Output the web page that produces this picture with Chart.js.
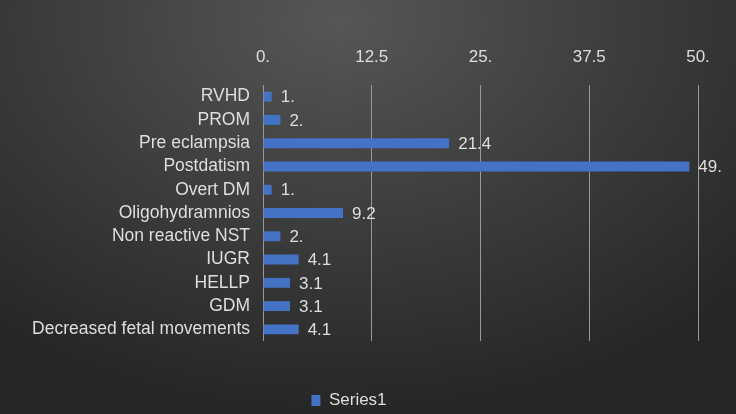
<!DOCTYPE html>
<html lang="en">
<head>
  <meta charset="UTF-8">
  <title>Indications</title>
  <script src="https://cdn.jsdelivr.net/npm/chart.js"></script>
  <style>
    html, body { margin: 0; padding: 0; }
    body {
      width: 736px; height: 414px; overflow: hidden;
      background: radial-gradient(ellipse 75% 95% at 46% 5%, #565656 0%, #3b3b3b 55%, #262626 100%);
    }
    .wrap { position: relative; width: 736px; height: 414px; }
  </style>
</head>
<body>
  <div class="wrap"><canvas id="grafico"></canvas></div>

  <script>
    const categorias = ['RVHD', 'PROM', 'Pre eclampsia', 'Postdatism', 'Overt DM', 'Oligohydramnios',
      'Non reactive NST', 'IUGR', 'HELLP', 'GDM', 'Decreased fetal movements'];
    const valores = [1, 2, 21.4, 49, 1, 9.2, 2, 4.1, 3.1, 3.1, 4.1];
    const ticksEje = [0, 12.5, 25, 37.5, 50];

    const fuente = "'Liberation Sans', Arial, sans-serif";
    const gris = '#dedede';
    // Excel style: whole numbers get a trailing dot ("1.", "25.")
    const fmt = v => Number.isInteger(v) ? v + '.' : String(v);

    const etiquetas = {
      id: 'etiquetas',
      afterDatasetsDraw(chart) {
        const ctx = chart.ctx;
        ctx.save();
        ctx.font = '17px ' + fuente;
        ctx.fillStyle = gris;
        ctx.textBaseline = 'middle';
        chart.getDatasetMeta(0).data.forEach((bar, i) => {
          ctx.fillText(fmt(valores[i]), bar.x + 9, bar.y + 1);
        });
        ctx.restore();
      }
    };

    new Chart(document.getElementById('grafico'), {
      type: 'bar',
      data: {
        labels: categorias,
        datasets: [{
          label: 'Series1',
          data: valores,
          backgroundColor: '#4472c4',
          categoryPercentage: 0.5,
          barPercentage: 0.85
        }]
      },
      options: {
        indexAxis: 'y',
        responsive: true,
        maintainAspectRatio: false,
        animation: false,
        layout: { padding: { top: 40, right: 38, left: 0, bottom: -5 } },
        scales: {
          x: {
            position: 'top',
            min: 0, max: 50,
            afterBuildTicks: s => { s.ticks = ticksEje.map(v => ({ value: v })); },
            afterFit: s => { s.height = 45; },
            ticks: { color: gris, font: { family: fuente, size: 17 }, padding: 17, callback: v => fmt(v) },
            grid: { color: '#999999', lineWidth: 1, drawTicks: false },
            border: { display: false }
          },
          x2: {
            type: 'linear',
            position: 'bottom',
            display: true,
            afterFit: s => { s.height = 49; },
            ticks: { display: false },
            grid: { display: false },
            border: { display: false }
          },
          y: {
            afterFit: s => { s.width = 263; },
            ticks: { color: gris, font: { family: fuente, size: 17.5 }, padding: 13, autoSkip: false },
            grid: { display: false, drawTicks: false },
            border: { display: false }
          }
        },
        plugins: {
          legend: {
            position: 'bottom',
            labels: { color: gris, font: { family: fuente, size: 17 }, boxWidth: 9, boxHeight: 11, padding: 2 }
          },
          tooltip: { enabled: false }
        }
      },
      plugins: [etiquetas]
    });
  </script>
</body>
</html>
